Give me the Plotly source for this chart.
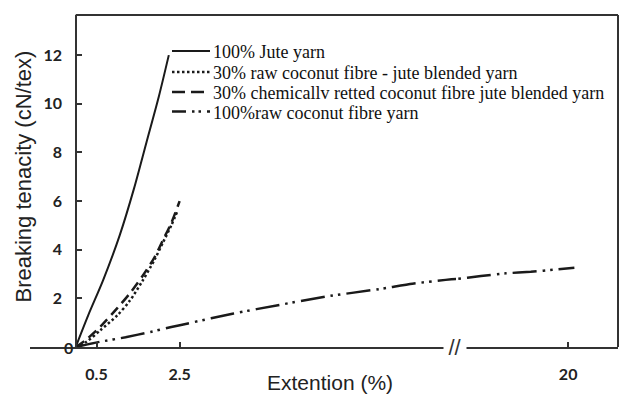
import plotly.graph_objects as go

# ---- data: extension (%) vs breaking tenacity (cN/tex) ----
jute_ext = [0.0, 0.3, 0.66, 1.06, 1.4, 1.7, 2.0, 2.24]
jute_ten = [0.0, 1.3, 2.75, 4.6, 6.5, 8.4, 10.3, 12.0]

raw_blend_ext = [0.0, 0.25, 0.6, 1.0, 1.3, 1.6, 1.9, 2.1, 2.3, 2.45]
raw_blend_ten = [0.0, 0.2, 0.7, 1.3, 1.9, 2.7, 3.6, 4.3, 5.0, 5.6]

chem_blend_ext = [0.0, 0.25, 0.6, 1.0, 1.3, 1.6, 1.9, 2.1, 2.3, 2.5]
chem_blend_ten = [0.0, 0.3, 0.85, 1.6, 2.2, 2.9, 3.7, 4.4, 5.1, 6.0]

coconut_ext = [0.0, 0.6, 1.2, 1.8, 2.3, 2.7, 3.8, 4.9, 6.0, 7.3, 8.1, 8.9, 9.2,
               17.3, 17.9, 18.5, 19.1, 19.7, 20.15]
coconut_ten = [0.0, 0.22, 0.4, 0.62, 0.82, 0.97, 1.38, 1.73, 2.07, 2.38, 2.6, 2.76, 2.8,
               2.8, 2.92, 3.03, 3.09, 3.19, 3.26]

series_names = [
    "100% Jute yarn",
    "30% raw coconut fibre - jute blended yarn",
    "30% chemicallv retted coconut fibre jute blended yarn",
    "100%raw coconut fibre yarn",
]

y_ticks = [2, 4, 6, 8, 10, 12]
x_ticks_low = [0.5, 2.5]
x_ticks_high = [20]

# ---- layout geometry ----
W, H = 619, 395
ML, MR, MT, MB = 30, 1, 15, 48
PW, PH = W - ML - MR, H - MT - MB

def px_x(p):
    return (p - ML) / PW

def px_y(p):
    return (H - MB - p) / PH

x_low_range = [-1.1, 9.15]
x_high_range = [17.3, 21.2]
y_range = [0, 13.65]
split = px_x(456)
yaxis_pos = (0 - x_low_range[0]) / (x_low_range[1] - x_low_range[0]) * split

INK = "#1a1a1a"
AX = "#333333"

styles = [
    dict(color=INK, width=2, shape="spline", smoothing=0.8),
    dict(color=INK, width=2.5, dash="2.5px,2.5px", shape="spline", smoothing=0.8),
    dict(color=INK, width=2.5, dash="10px,6px", shape="spline", smoothing=0.8),
    dict(color=INK, width=2.5, dash="24px,6px,2.5px,5px,2.5px,6px", shape="spline",
         smoothing=0.5),
]
legend_dash = [None, "2.5px,2.5px", "13px,6px", "14px,6px,2.5px,4px,2.5px,6px"]

fig = go.Figure()
fig.add_trace(go.Scatter(x=jute_ext, y=jute_ten, mode="lines", line=styles[0],
                         name=series_names[0], xaxis="x", yaxis="y"))
fig.add_trace(go.Scatter(x=raw_blend_ext, y=raw_blend_ten, mode="lines", line=styles[1],
                         name=series_names[1], xaxis="x", yaxis="y"))
fig.add_trace(go.Scatter(x=chem_blend_ext, y=chem_blend_ten, mode="lines", line=styles[2],
                         name=series_names[2], xaxis="x", yaxis="y"))
# the coconut yarn spans both sides of the broken extension axis
fig.add_trace(go.Scatter(x=coconut_ext, y=coconut_ten, mode="lines", line=styles[3],
                         name=series_names[3], xaxis="x", yaxis="y"))
fig.add_trace(go.Scatter(x=coconut_ext, y=coconut_ten, mode="lines", line=styles[3],
                         name=series_names[3], xaxis="x2", yaxis="y", showlegend=False))
# empty trace that attaches the label-only tenacity axis
fig.add_trace(go.Scatter(x=[None], y=[None], mode="lines", xaxis="x", yaxis="y2",
                         showlegend=False, hoverinfo="skip"))

tick_font = dict(family="Lato, Open Sans, sans-serif", size=16, color="#222", weight="bold")
axis_common = dict(showgrid=False, zeroline=False, showline=True, linecolor=AX, linewidth=2,
                   ticks="inside", ticklen=5, tickwidth=1.5, tickcolor=AX, tickfont=tick_font)

shapes = [
    # frame: top and right edges
    dict(type="line", xref="paper", yref="paper", x0=yaxis_pos, x1=1, y0=1, y1=1,
         line=dict(color=AX, width=2)),
    dict(type="line", xref="paper", yref="paper", x0=1, x1=1, y0=0, y1=1,
         line=dict(color=AX, width=2)),
]

annotations = [
    dict(text="0", x=0, y=0, xref="x", yref="y", xanchor="right", yanchor="middle",
         xshift=-1, showarrow=False, font=tick_font),
    dict(text="//", x=px_x(455), y=0, xref="paper", yref="paper", xanchor="center",
         yanchor="middle", showarrow=False, bgcolor="white", width=18, borderpad=2,
         font=dict(family="Liberation Sans, Arial", size=22, color=AX)),
    dict(text="Extention (%)", x=px_x(330), y=px_y(382), xref="paper", yref="paper",
         xanchor="center", yanchor="middle", showarrow=False,
         font=dict(family="Arial, Liberation Sans", size=21, color="#222")),
    dict(text="Breaking tenacity (cN/tex)", x=px_x(22.5), y=px_y(177), xref="paper",
         yref="paper", xanchor="center", yanchor="middle", textangle=-90, showarrow=False,
         font=dict(family="Arial, Liberation Sans", size=22, color="#222")),
]

# legend block: line sample + label per series
legend_rows = [51, 72, 92, 111.5]
for name, row, dash in zip(series_names, legend_rows, legend_dash):
    ln = dict(color=INK, width=2.5 if dash else 2)
    if dash:
        ln["dash"] = dash
    shapes.append(dict(type="line", xref="paper", yref="paper", x0=px_x(172), x1=px_x(210),
                       y0=px_y(row), y1=px_y(row), line=ln))
    annotations.append(dict(text=name, x=px_x(211), y=px_y(row + 1), xref="paper",
                            yref="paper", xanchor="left", yanchor="middle", showarrow=False,
                            font=dict(family="Liberation Serif, Times New Roman, serif",
                                      size=18, color="#111")))

fig.update_layout(
    width=W, height=H,
    margin=dict(l=ML, r=MR, t=MT, b=MB, pad=0),
    paper_bgcolor="white", plot_bgcolor="white",
    showlegend=False,
    xaxis=dict(domain=[0, split], range=x_low_range, anchor="y",
               tickvals=[x_low_range[0]] + x_ticks_low,
               ticktext=[""] + [str(v) for v in x_ticks_low],
               ticklabelstandoff=12, **axis_common),
    xaxis2=dict(domain=[split, 1], range=x_high_range, anchor="y",
                tickvals=x_ticks_high, ticktext=[str(v) for v in x_ticks_high],
                ticklabelstandoff=12, **axis_common),
    # tenacity axis: line and inward ticks at x = 0
    yaxis=dict(domain=[0, 1], range=y_range, anchor="free", position=yaxis_pos,
               tickvals=y_ticks, showticklabels=False, **axis_common),
    # companion axis carrying the tenacity tick labels, set a little further left
    yaxis2=dict(domain=[0, 1], range=y_range, overlaying="y", anchor="free",
                position=px_x(62), tickvals=y_ticks, ticktext=[str(v) for v in y_ticks],
                showline=False, showgrid=False, zeroline=False, ticks="",
                tickfont=tick_font),
    shapes=shapes,
    annotations=annotations,
)

fig.write_html("out.html")
